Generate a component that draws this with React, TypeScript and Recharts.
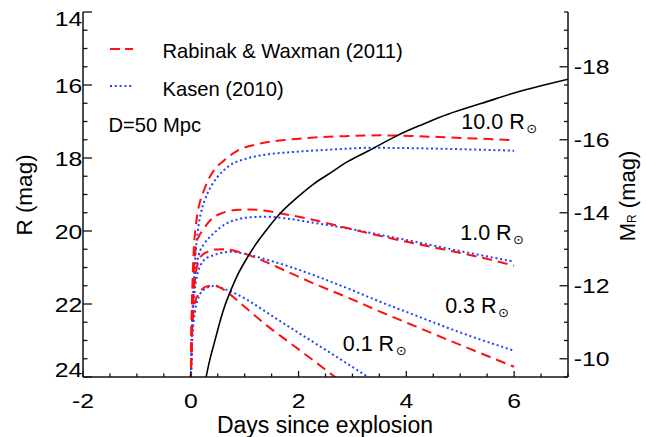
import React from 'react';
import { LineChart, Line, XAxis, YAxis, Legend, ReferenceDot } from 'recharts';

const FONT = '"Liberation Sans", Arial, Helvetica, sans-serif';
const RED = '#ff1010';
const BLUE = '#2040ff';
const INK = '#111111';

// ---- data (t = days since explosion, R = apparent magnitude) ----
const shockBreakoutCurve = [
  { t: 0.28, R: 24.03 }, { t: 0.35, R: 23.55 }, { t: 0.43, R: 23.1 }, { t: 0.52, R: 22.6 },
  { t: 0.62, R: 22.1 }, { t: 0.75, R: 21.6 }, { t: 0.87, R: 21.2 }, { t: 1.0, R: 20.85 },
  { t: 1.18, R: 20.42 }, { t: 1.4, R: 19.98 }, { t: 1.67, R: 19.5 }, { t: 2.0, R: 19.05 },
  { t: 2.29, R: 18.7 }, { t: 2.6, R: 18.4 }, { t: 2.91, R: 18.1 }, { t: 3.3, R: 17.8 },
  { t: 3.84, R: 17.38 }, { t: 4.3, R: 17.08 }, { t: 4.77, R: 16.8 }, { t: 5.4, R: 16.5 },
  { t: 6.0, R: 16.22 }, { t: 6.5, R: 16.02 }, { t: 7.0, R: 15.84 },
];

const rw10 = [
  { t: 0.0, R: 24.2 }, { t: 0.01, R: 22.8 }, { t: 0.03, R: 21.5 }, { t: 0.06, R: 20.4 },
  { t: 0.09, R: 19.9 }, { t: 0.124, R: 19.52 }, { t: 0.18, R: 19.15 }, { t: 0.247, R: 18.88 },
  { t: 0.33, R: 18.58 }, { t: 0.433, R: 18.33 }, { t: 0.59, R: 18.1 }, { t: 0.87, R: 17.8 },
  { t: 1.3, R: 17.6 }, { t: 1.86, R: 17.49 }, { t: 2.4, R: 17.43 }, { t: 2.91, R: 17.4 },
  { t: 3.5, R: 17.38 }, { t: 4.15, R: 17.4 }, { t: 5.0, R: 17.45 }, { t: 6.0, R: 17.51 },
];
const kasen10 = [
  { t: 0.0, R: 24.2 }, { t: 0.02, R: 22.8 }, { t: 0.05, R: 21.6 }, { t: 0.09, R: 20.6 },
  { t: 0.13, R: 20.0 }, { t: 0.186, R: 19.52 }, { t: 0.25, R: 19.2 }, { t: 0.31, R: 18.97 },
  { t: 0.4, R: 18.72 }, { t: 0.5, R: 18.51 }, { t: 0.74, R: 18.19 }, { t: 1.05, R: 18.01 },
  { t: 1.42, R: 17.9 }, { t: 1.86, R: 17.84 }, { t: 2.6, R: 17.77 }, { t: 3.34, R: 17.72 },
  { t: 4.46, R: 17.74 }, { t: 6.0, R: 17.8 },
];

const rw1 = [
  { t: 0.0, R: 24.2 }, { t: 0.015, R: 22.8 }, { t: 0.04, R: 21.6 }, { t: 0.07, R: 20.8 },
  { t: 0.1, R: 20.35 }, { t: 0.15, R: 20.15 }, { t: 0.22, R: 19.98 }, { t: 0.32, R: 19.78 },
  { t: 0.43, R: 19.62 }, { t: 0.56, R: 19.52 }, { t: 0.69, R: 19.46 }, { t: 0.9, R: 19.42 },
  { t: 1.11, R: 19.41 }, { t: 1.35, R: 19.44 }, { t: 1.67, R: 19.52 }, { t: 2.29, R: 19.7 },
  { t: 2.9, R: 19.92 }, { t: 3.53, R: 20.14 }, { t: 4.15, R: 20.34 }, { t: 4.77, R: 20.53 },
  { t: 5.4, R: 20.73 }, { t: 6.0, R: 20.95 },
];
const kasen1 = [
  { t: 0.0, R: 24.2 }, { t: 0.02, R: 22.9 }, { t: 0.05, R: 21.8 }, { t: 0.09, R: 21.1 },
  { t: 0.15, R: 20.65 }, { t: 0.25, R: 20.35 }, { t: 0.33, R: 20.2 }, { t: 0.43, R: 20.06 },
  { t: 0.55, R: 19.9 }, { t: 0.68, R: 19.78 }, { t: 0.9, R: 19.67 }, { t: 1.11, R: 19.62 },
  { t: 1.4, R: 19.61 }, { t: 1.73, R: 19.65 }, { t: 2.3, R: 19.78 }, { t: 2.91, R: 19.93 },
  { t: 3.5, R: 20.1 }, { t: 4.15, R: 20.29 }, { t: 5.0, R: 20.55 }, { t: 6.0, R: 20.84 },
];

const rw03 = [
  { t: 0.0, R: 24.2 }, { t: 0.02, R: 22.8 }, { t: 0.05, R: 21.8 }, { t: 0.09, R: 21.2 },
  { t: 0.15, R: 20.79 }, { t: 0.22, R: 20.65 }, { t: 0.31, R: 20.57 }, { t: 0.45, R: 20.51 },
  { t: 0.62, R: 20.5 }, { t: 0.93, R: 20.59 }, { t: 1.3, R: 20.79 }, { t: 1.8, R: 21.12 },
  { t: 2.3, R: 21.45 }, { t: 2.91, R: 21.82 }, { t: 3.5, R: 22.2 }, { t: 4.15, R: 22.6 },
  { t: 5.0, R: 23.12 }, { t: 6.0, R: 23.72 },
];
const kasen03 = [
  { t: 0.0, R: 24.2 }, { t: 0.03, R: 22.6 }, { t: 0.07, R: 21.7 }, { t: 0.12, R: 21.2 },
  { t: 0.18, R: 20.95 }, { t: 0.25, R: 20.79 }, { t: 0.43, R: 20.66 }, { t: 0.6, R: 20.59 },
  { t: 0.74, R: 20.57 }, { t: 1.05, R: 20.64 }, { t: 1.42, R: 20.79 }, { t: 1.86, R: 20.99 },
  { t: 2.3, R: 21.22 }, { t: 2.91, R: 21.57 }, { t: 3.5, R: 21.93 }, { t: 4.15, R: 22.3 },
  { t: 5.0, R: 22.78 }, { t: 6.0, R: 23.28 },
];

const rw01 = [
  { t: 0.0, R: 24.2 }, { t: 0.02, R: 23.0 }, { t: 0.05, R: 22.2 }, { t: 0.09, R: 21.9 },
  { t: 0.15, R: 21.71 }, { t: 0.22, R: 21.58 }, { t: 0.31, R: 21.51 }, { t: 0.43, R: 21.49 },
  { t: 0.58, R: 21.58 }, { t: 0.74, R: 21.75 }, { t: 1.05, R: 22.14 }, { t: 1.42, R: 22.6 },
  { t: 1.8, R: 23.02 }, { t: 2.17, R: 23.43 }, { t: 2.66, R: 23.98 }, { t: 2.8, R: 24.14 },
];
const kasen01 = [
  { t: 0.0, R: 24.2 }, { t: 0.03, R: 22.9 }, { t: 0.08, R: 22.2 }, { t: 0.15, R: 21.8 },
  { t: 0.25, R: 21.6 }, { t: 0.43, R: 21.51 }, { t: 0.68, R: 21.62 }, { t: 1.05, R: 21.89 },
  { t: 1.42, R: 22.24 }, { t: 1.67, R: 22.48 }, { t: 2.29, R: 23.06 }, { t: 2.91, R: 23.64 },
  { t: 3.28, R: 23.99 }, { t: 3.4, R: 24.1 },
];

const radiusLabels = [
  { text: '10.0', t: 5.02, R: 17.21 },
  { text: '1.0', t: 5.0, R: 20.25 },
  { text: '0.3', t: 4.72, R: 22.25 },
  { text: '0.1', t: 2.82, R: 23.28 },
];

// ---- axes ----
const X_DOMAIN = [-2, 7];
const X_TICKS = [-2, -1.5, -1, -0.5, 0, 0.5, 1, 1.5, 2, 2.5, 3, 3.5, 4, 4.5, 5, 5.5, 6, 6.5, 7];
const X_LABELS = [-2, 0, 2, 4, 6];
const R_DOMAIN = [14, 24];
const R_TICKS = [14, 14.5, 15, 15.5, 16, 16.5, 17, 17.5, 18, 18.5, 19, 19.5, 20, 20.5, 21, 21.5, 22, 22.5, 23, 23.5, 24];
const R_LABELS = [14, 16, 18, 20, 22, 24];
const M_DOMAIN = [-19.5, -9.5];
const M_TICKS = [-19.5, -19, -18.5, -18, -17.5, -17, -16.5, -16, -15.5, -15, -14.5, -14, -13.5, -13, -12.5, -12, -11.5, -11, -10.5, -10, -9.5];
const M_LABELS = [-18, -16, -14, -12, -10];

const TICK_FS = 21;
const TICK_STRETCH = 1.18;

function TickText({ x, y, anchor, children }: any) {
  return (
    <text
      x={0} y={0} transform={`translate(${x},${y}) scale(${TICK_STRETCH},1)`}
      textAnchor={anchor} fontSize={TICK_FS} fontFamily={FONT} fill="#000"
    >
      {children}
    </text>
  );
}

function BottomTick(props: any) {
  const { x, y, payload } = props;
  const v = payload.value;
  const major = X_LABELS.includes(v);
  return (
    <g>
      <line x1={x} x2={x} y1={y} y2={y - (major ? 6 : 3.5)} stroke={INK} strokeWidth={1.3} />
      {major && <TickText x={x} y={y + 31.3} anchor="middle">{String(v)}</TickText>}
    </g>
  );
}

function TopTick(props: any) {
  const { x, y, payload } = props;
  const major = X_LABELS.includes(payload.value);
  return <line x1={x} x2={x} y1={y} y2={y + (major ? 6.5 : 3.5)} stroke={INK} strokeWidth={1.3} />;
}

function LeftTick(props: any) {
  const { x, y, payload } = props;
  const v = payload.value;
  const major = R_LABELS.includes(v);
  let by = y + 7.5;
  if (v === R_LABELS[0]) by = y + 14;
  if (v === R_LABELS[R_LABELS.length - 1]) by = y - 0.3;
  return (
    <g>
      <line x1={x} x2={x + (major ? 9 : 4.5)} y1={y} y2={y} stroke={INK} strokeWidth={1.3} />
      {major && <TickText x={x - 0.8} y={by} anchor="end">{String(v)}</TickText>}
    </g>
  );
}

function RightTick(props: any) {
  const { x, y, payload } = props;
  const v = payload.value;
  const major = M_LABELS.includes(v);
  return (
    <g>
      <line x1={x} x2={x - (major ? 8.5 : 4)} y1={y} y2={y} stroke={INK} strokeWidth={1.3} />
      {major && <TickText x={x + 5.8} y={y + 7.4} anchor="start">{String(v)}</TickText>}
    </g>
  );
}

function RadiusText({ viewBox, text }: any) {
  if (!viewBox) return null;
  const x = viewBox.x + (viewBox.width || 0) / 2;
  const y = viewBox.y + (viewBox.height || 0) / 2;
  return (
    <text x={x} y={y} fontSize={21.5} fontFamily={FONT} fill="#000">
      {text} R
      <tspan fontSize={13} dx={1.5} dy={4} fontFamily='"DejaVu Sans", sans-serif'>⊙</tspan>
    </text>
  );
}

const legendItems = [
  { label: 'Rabinak & Waxman (2011)', color: RED, dash: '10 5' },
  { label: 'Kasen (2010)', color: BLUE, dash: '2 2.8' },
];

function InPlotLegend() {
  return (
    <svg width={340} height={115} style={{ display: 'block', overflow: 'visible' }}>
      {legendItems.map((it, i) => (
        <g key={it.label}>
          <line x1={10} x2={33} y1={19 + i * 37} y2={19 + i * 37} stroke={it.color} strokeWidth={2} strokeDasharray={it.dash} />
          <text x={62.5} y={28.3 + i * 37.7} fontSize={20.2} fontFamily={FONT} fill="#000">{it.label}</text>
        </g>
      ))}
      <text x={8.5} y={101.7} fontSize={20.2} fontFamily={FONT} fill="#000">D=50 Mpc</text>
    </svg>
  );
}

const redLines = [rw10, rw1, rw03, rw01];
const blueLines = [kasen10, kasen1, kasen03, kasen01];

export default function App() {
  return (
    <div style={{ position: 'absolute', left: 0, top: 0, background: '#fff' }}>
      <LineChart width={646} height={437} margin={{ top: 12, right: 0, bottom: 0, left: 0 }}>
        <XAxis
          xAxisId="b" dataKey="t" type="number" domain={X_DOMAIN} ticks={X_TICKS} interval={0}
          allowDataOverflow height={60} tickSize={0} tickMargin={0} tickLine={false}
          axisLine={{ stroke: INK, strokeWidth: 1.5 }} tick={<BottomTick />}
          label={{
            content: () => (
              <text x={325} y={433} textAnchor="middle" fontSize={23} fontFamily={FONT} fill="#000">
                Days since explosion
              </text>
            ),
          }}
        />
        <XAxis
          xAxisId="top" dataKey="t" type="number" orientation="top" domain={X_DOMAIN} ticks={X_TICKS}
          interval={0} allowDataOverflow height={0} tickSize={0} tickMargin={0} tickLine={false}
          axisLine={{ stroke: INK, strokeWidth: 1.5 }} tick={<TopTick />}
        />
        <YAxis
          yAxisId="R" type="number" domain={R_DOMAIN} reversed ticks={R_TICKS} interval={0}
          allowDataOverflow width={83} tickSize={0} tickMargin={0} tickLine={false}
          axisLine={{ stroke: INK, strokeWidth: 1.5 }} tick={<LeftTick />}
          label={{
            content: () => (
              <text x={31.7} y={195} transform="rotate(-90 31.7 195)" textAnchor="middle" fontSize={22.5} fontFamily={FONT} fill="#000">
                R  (mag)
              </text>
            ),
          }}
        />
        <YAxis
          yAxisId="M" type="number" orientation="right" domain={M_DOMAIN} reversed ticks={M_TICKS}
          interval={0} allowDataOverflow width={78} tickSize={0} tickMargin={0} tickLine={false}
          axisLine={{ stroke: INK, strokeWidth: 1.5 }} tick={<RightTick />}
          label={{
            content: () => (
              <text x={635} y={196} transform="rotate(-90 635 196)" textAnchor="middle" fontSize={22} fontFamily={FONT} fill="#000">
                M<tspan fontSize={12} dy={1}>R</tspan><tspan dy={-1}> (mag)</tspan>
              </text>
            ),
          }}
        />
        <Legend
          layout="vertical" align="center" verticalAlign="middle"
          wrapperStyle={{ position: 'absolute', left: 100, top: 30, width: 340, height: 115 }}
          content={() => <InPlotLegend />}
        />
        {blueLines.map((d, i) => (
          <Line
            key={'k' + i} xAxisId="b" yAxisId="R" data={d} dataKey="R" type="monotone"
            stroke={BLUE} strokeWidth={2} strokeDasharray="2 2.8" dot={false} activeDot={false}
            isAnimationActive={false} legendType="none"
          />
        ))}
        {redLines.map((d, i) => (
          <Line
            key={'r' + i} xAxisId="b" yAxisId="R" data={d} dataKey="R" type="monotone"
            stroke={RED} strokeWidth={2} strokeDasharray="10 6" dot={false} activeDot={false}
            isAnimationActive={false} legendType="none"
          />
        ))}
        <Line
          xAxisId="b" yAxisId="R" data={shockBreakoutCurve} dataKey="R" type="natural"
          stroke="#000" strokeWidth={1.6} dot={false} activeDot={false} isAnimationActive={false} legendType="none"
        />
        {radiusLabels.map((l) => (
          <ReferenceDot
            key={l.text} xAxisId="b" yAxisId="R" x={l.t} y={l.R} r={0} fill="none" stroke="none"
            label={{ content: (p: any) => <RadiusText viewBox={p.viewBox} text={l.text} /> }}
          />
        ))}
      </LineChart>
    </div>
  );
}
